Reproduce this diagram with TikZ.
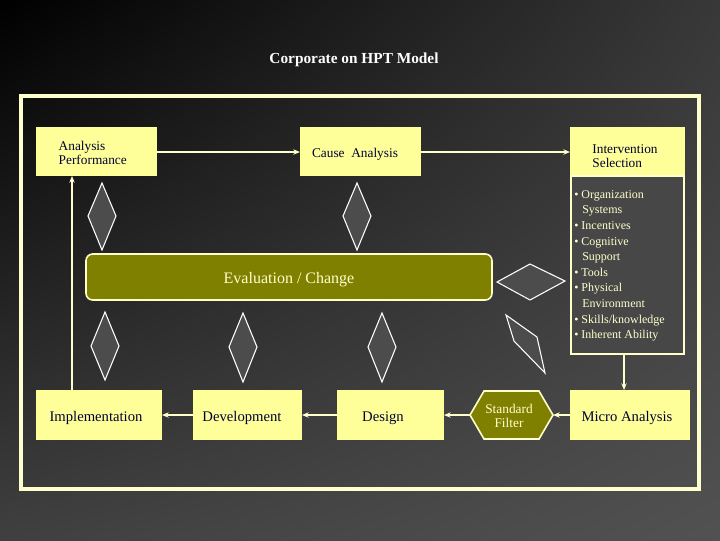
\documentclass[tikz,border=0pt]{standalone}
\usepackage{fontspec}
\setmainfont{Liberation Serif}
\usetikzlibrary{shapes.geometric,arrows.meta,shadings}
\definecolor{pale}{HTML}{FFFF99}
\definecolor{frame}{HTML}{FFFFCC}
\definecolor{olive}{HTML}{808000}
\definecolor{ink}{HTML}{000033}
\tikzset{
 box/.style={draw=none,fill=pale,text=ink,font=\fontsize{10}{11}\selectfont,align=left},
 bbox/.style={box,font=\fontsize{11}{12}\selectfont},
 dia/.style={draw=white,fill=black!70,line width=0.8pt},
 conn/.style={draw=frame,line width=1pt,-{Stealth[length=5pt,width=4pt]}},
}
\begin{document}
\begin{tikzpicture}[x=0.75pt,y=-0.75pt]
\useasboundingbox (0,0) rectangle (720,540);
\shade[upper left=black,upper right=black!78,lower left=black!75,lower right=black!68] (0,0) rectangle (720,540);
\node[text=white,font=\bfseries\fontsize{11.5}{12}\selectfont] (title) at (354,60) {Corporate on HPT Model};
\draw[frame,line width=3pt] (21,96) rectangle (699,489);
% boxes
\fill[pale] (36,127) rectangle (157,176); \node[box,anchor=west] (ap) at (54,153) {Analysis\\[-1pt]Performance};
\path (157,152) coordinate (apE) (72,176) coordinate (apB);
\fill[pale] (300,127) rectangle (421,176); \node[box] (ca) at (355,154) {Cause\ \ Analysis};
\path (300,152) coordinate (caW) (421,152) coordinate (caE);
\fill[pale] (570,127) rectangle (685,176); \node[box] (is) at (625,156) {Intervention\\[-1pt]Selection};
\path (570,152) coordinate (isW);
\draw[frame,line width=1.2pt,fill=black!72] (571,176) rectangle (684,354);
\node[text=frame,font=\fontsize{9}{11.7}\selectfont,align=left,anchor=north west,inner sep=0pt] (list) at (574,190)
 {\textbullet\ Organization\\\ \ \,Systems\\\textbullet\ Incentives\\\textbullet\ Cognitive\\\ \ \,Support\\\textbullet\ Tools\\\textbullet\ Physical\\\ \ \,Environment\\\textbullet\ Skills/knowledge\\\textbullet\ Inherent Ability};
\path (624,354) coordinate (listB);
% evaluation bar
\draw[frame,line width=1.2pt,fill=olive,rounded corners=5pt] (86,254) rectangle (492,300);
\node[text=frame,font=\fontsize{12}{13}\selectfont] (ev) at (289,280) {Evaluation / Change};
% bottom row
\fill[pale] (36,390) rectangle (162,440); \node[bbox] (im) at (96,418) {Implementation};
\fill[pale] (193,390) rectangle (302,440); \node[bbox] (dv) at (242,418) {Development};
\fill[pale] (337,390) rectangle (444,440); \node[bbox] (ds) at (383,418) {Design};
\fill[pale] (570,390) rectangle (690,440); \node[bbox] (ma) at (627,418) {Micro Analysis};
\draw[frame,line width=1.2pt,fill=olive] (470,415)--(484,391)--(539,391)--(553,415)--(539,439)--(484,439)--cycle;
\node[text=frame,font=\fontsize{10}{11}\selectfont,align=center] (sf) at (509,416) {Standard\\[-1pt]Filter};
\path (162,415) coordinate (imE) (193,415) coordinate (dvW) (302,415) coordinate (dvE)
 (337,415) coordinate (dsW) (444,415) coordinate (dsE) (470,415) coordinate (sfW) (553,415) coordinate (sfE)
 (570,415) coordinate (maW) (624,390) coordinate (maT) (72,390) coordinate (imT);
% connectors
\draw[conn] (apE) -- (caW);
\draw[conn] (caE) -- (isW);
\draw[conn] (listB) -- (maT);
\draw[conn] (maW) -- (sfE);
\draw[conn] (sfW) -- (dsE);
\draw[conn] (dsW) -- (dvE);
\draw[conn] (dvW) -- (imE);
\draw[conn] (imT) -- (apB);
% diamonds
\draw[dia] (102,183)--(116,216)--(102,250)--(88,216)--cycle;
\draw[dia] (357,183)--(371,216)--(357,250)--(343,216)--cycle;
\draw[dia] (105,312)--(119,346)--(105,380)--(91,346)--cycle;
\draw[dia] (243,313)--(257,347)--(243,382)--(229,347)--cycle;
\draw[dia] (382,313)--(396,347)--(382,382)--(368,347)--cycle;
\draw[dia] (497,282)--(530,264)--(565,281)--(530,300)--cycle;
\draw[dia] (506,315)--(537,337)--(545,373)--(514,341)--cycle;
\end{tikzpicture}
\end{document}
